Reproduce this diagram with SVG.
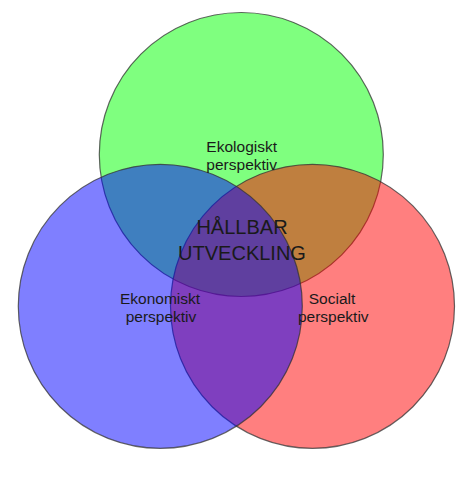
<svg xmlns="http://www.w3.org/2000/svg" width="472" height="478" viewBox="0 0 472 478">
<style>
.c{stroke:#333;stroke-opacity:0.75;stroke-width:1.2}
.t{font-family:"Liberation Sans",Arial,sans-serif;fill:#1a1a1a;text-anchor:middle}
.s{font-size:15.5px}
.b{font-size:20px}
</style>
<rect width="472" height="478" fill="#ffffff"/>
<g id="ekologiskt">
<circle class="c" cx="241.3" cy="154.5" r="142" fill="rgb(0,255,0)" fill-opacity="0.5"/>
</g>
<g id="socialt">
<circle class="c" cx="312.5" cy="306.3" r="142" fill="rgb(255,0,0)" fill-opacity="0.5"/>
</g>
<g id="ekonomiskt">
<circle class="c" cx="160.3" cy="306.3" r="142" fill="rgb(0,0,255)" fill-opacity="0.5"/>
</g>
<g id="connectors"></g>
<g id="labels">
<text class="t s" x="241.7" y="151.7">Ekologiskt</text>
<text class="t s" x="241.7" y="169.5">perspektiv</text>
<text class="t s" x="160" y="304">Ekonomiskt</text>
<text class="t s" x="161" y="322">perspektiv</text>
<text class="t s" x="332" y="304">Socialt</text>
<text class="t s" x="333.3" y="322">perspektiv</text>
<text class="t b" x="242" y="234">HÅLLBAR</text>
<text class="t b" x="242" y="260">UTVECKLING</text>
</g>
</svg>
